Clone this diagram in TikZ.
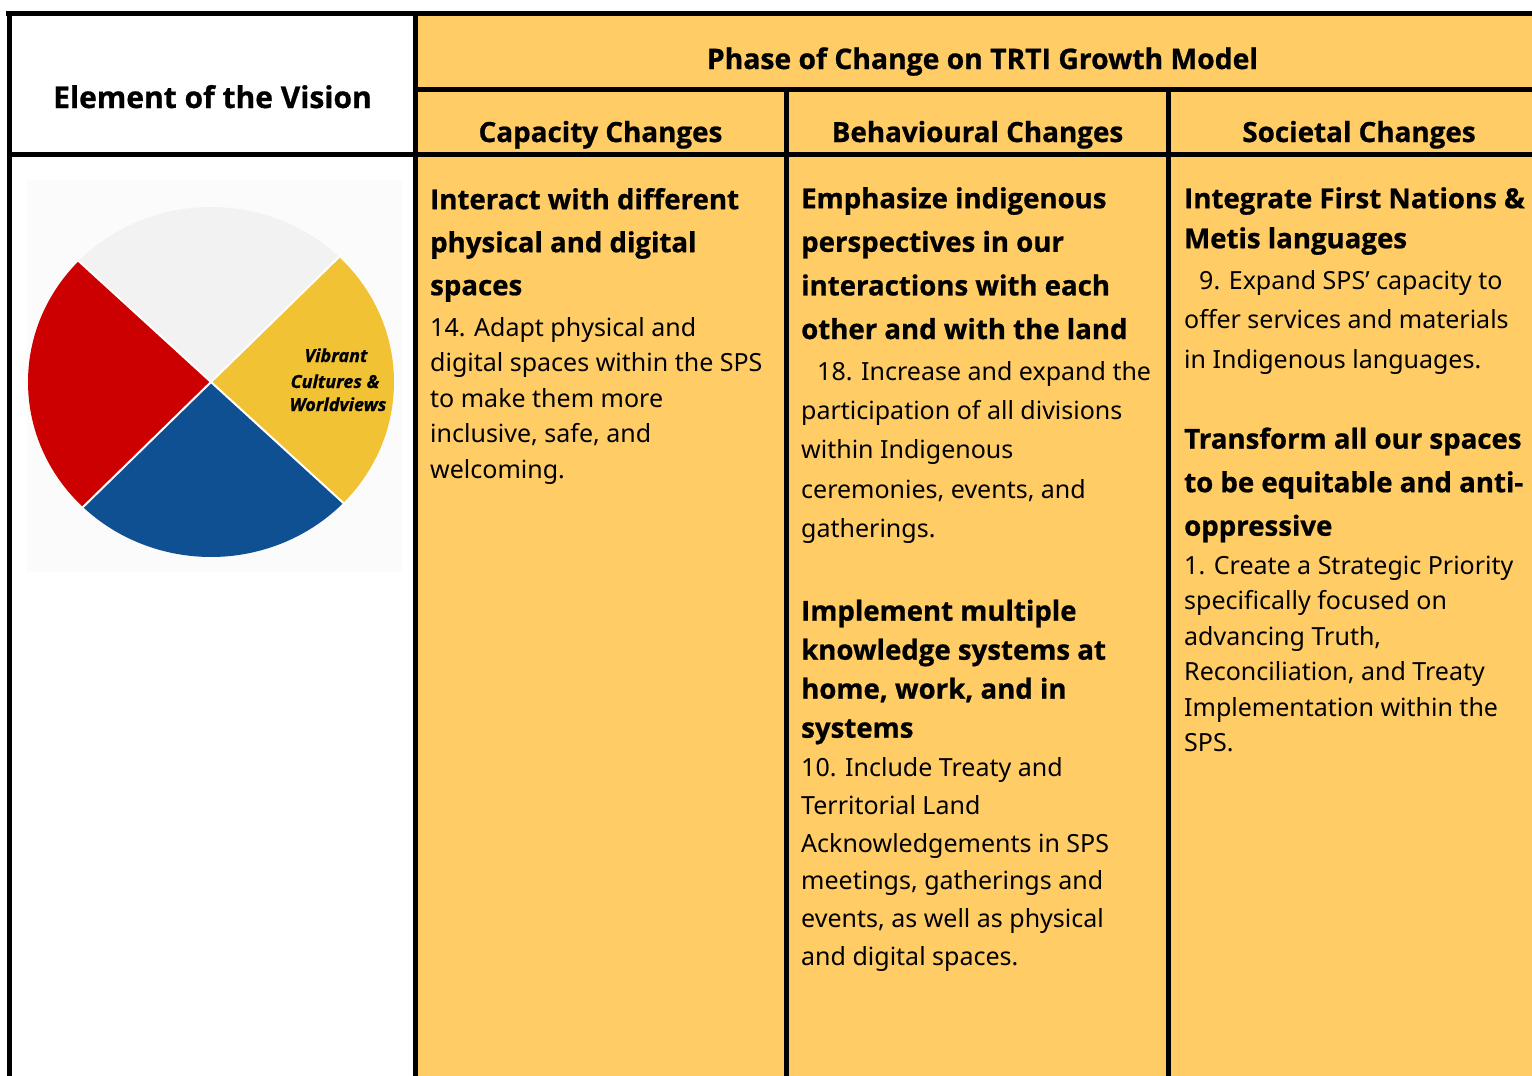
\documentclass[tikz,border=0pt]{standalone}
\usepackage{fontspec}
\setmainfont{Noto Sans}
\newfontfamily\boldsans{Open Sans}[BoldFeatures={FakeBold=0.8}, BoldItalicFeatures={FakeBold=0.8}]
\usepackage{xcolor}
\usepackage{tikz}
\usetikzlibrary{calc}
\definecolor{cellyellow}{RGB}{255,204,102}
\definecolor{wheelwhite}{RGB}{242,242,242}
\definecolor{wheelred}{RGB}{204,0,0}
\definecolor{wheelblue}{RGB}{14,80,145}
\definecolor{wheelyellow}{RGB}{240,194,52}
\tikzset{
 rule/.style={black, line width=5pt},
 headtext/.style={anchor=base, inner sep=0, font=\fontsize{#1}{32}\selectfont\boldsans\bfseries},
 headtext/.default=27.8,
 goaltext/.style={anchor=north west, inner sep=0, align=left, font=\fontsize{27.6}{#1}\selectfont\boldsans\bfseries},
 goaltext/.default=43,
 actiontext/.style={anchor=north west, inner sep=0, align=left, font=\fontsize{25}{#1}\selectfont},
 actiontext/.default=35.5,
 wheeltext/.style={anchor=base, inner sep=0, font=\fontsize{18}{20}\selectfont\boldsans\bfseries\itshape}
}
\newcommand{\goalstrut}{\rule{0pt}{22pt}}
\newcommand{\actstrut}{\rule{0pt}{20pt}}

\begin{document}
\begin{tikzpicture}[x=1pt, y=-1pt]
\useasboundingbox (0,0) rectangle (1532,1076);
\clip (0,0) rectangle (1532,1076);
\fill[white] (0,0) rectangle (1532,1076);
\fill[cellyellow] (415,13) rectangle (1545,1080);

\fill[white!98.5!black] (27,180) rectangle (402,572);
\begin{scope}[shift={(211,382)}, x=1pt, y=1pt]
\fill[wheelwhite] (0,0) -- (45.6:183pt and 175pt) arc[start angle=45.6, end angle=136.3, x radius=183pt, y radius=175pt] -- cycle;
\fill[wheelred] (0,0) -- (136.3:183pt and 175pt) arc[start angle=136.3, end angle=225.6, x radius=183pt, y radius=175pt] -- cycle;
\fill[wheelblue] (0,0) -- (225.6:183pt and 175pt) arc[start angle=225.6, end angle=316.3, x radius=183pt, y radius=175pt] -- cycle;
\fill[wheelyellow] (0,0) -- (316.3:183pt and 175pt) arc[start angle=316.3, end angle=405.6, x radius=183pt, y radius=175pt] -- cycle;
\foreach \a in {45.6,136.3,225.6,316.3} {
 \draw[white, line width=2pt] (0,0) -- (\a:184pt and 176pt);
}
\end{scope}
\node[wheeltext] (vibrant) at (336,362) {Vibrant};
\node[wheeltext] (cultures) at (335,388) {Cultures \&};
\node[wheeltext] (worldviews) at (338,411) {Worldviews};

\draw[rule] (6,13) -- (1545,13);
\draw[rule] (9,11) -- (9,1080);
\draw[rule] (415,13) -- (415,1080);
\draw[rule] (415,89) -- (1545,89);
\draw[rule] (9,154) -- (1545,154);
\foreach \x in {786,1168} {
 \draw[rule] (\x,89) -- (\x,1080);
}

\node[headtext=30] (elemhead) at (212.5,108) {Element of the Vision};
\node[headtext=28.3] (phasehead) at (982.5,69) {Phase of Change on TRTI Growth Model};
\node[headtext] (caphead) at (600.5,142) {Capacity Changes};
\node[headtext] (behhead) at (977.5,142) {Behavioural Changes};
\node[headtext] (sochead) at (1359,142) {Societal Changes};

\node[goaltext] (capgoal) at (430,187) {\goalstrut Interact with different\\physical and digital\\spaces};
\node[actiontext] (capact) at (430,316) {\actstrut 14. Adapt physical and\\digital spaces within the SPS\\to make them more\\inclusive, safe, and\\welcoming.};

\node[goaltext=43.6] (behgoala) at (801,186) {\goalstrut Emphasize indigenous\\perspectives in our\\interactions with each\\other and with the land};
\node[actiontext=39.3] (behacta) at (801,360) {\actstrut\hspace*{16pt}18. Increase and expand the\\participation of all divisions\\within Indigenous\\ceremonies, events, and\\gatherings.};
\node[goaltext=39] (behgoalb) at (801,598.5) {\goalstrut Implement multiple\\knowledge systems at\\home, work, and in\\systems};
\node[actiontext=37.7] (behactb) at (801,756.5) {\actstrut 10. Include Treaty and\\Territorial Land\\Acknowledgements in SPS\\meetings, gatherings and\\events, as well as physical\\and digital spaces.};

\node[goaltext=40] (socgoala) at (1184,186) {\goalstrut Integrate First Nations \&\\Metis languages};
\node[actiontext=39.5] (socacta) at (1184,269) {\actstrut\hspace*{15pt}9. Expand SPS’ capacity to\\offer services and materials\\in Indigenous languages.};
\node[goaltext=43.5] (socgoalb) at (1184,426.5) {\goalstrut Transform all our spaces\\to be equitable and anti-\\oppressive};
\node[actiontext] (socactb) at (1184,554) {\actstrut 1. Create a Strategic Priority\\specifically focused on\\advancing Truth,\\Reconciliation, and Treaty\\Implementation within the\\SPS.};
\end{tikzpicture}
\end{document}
